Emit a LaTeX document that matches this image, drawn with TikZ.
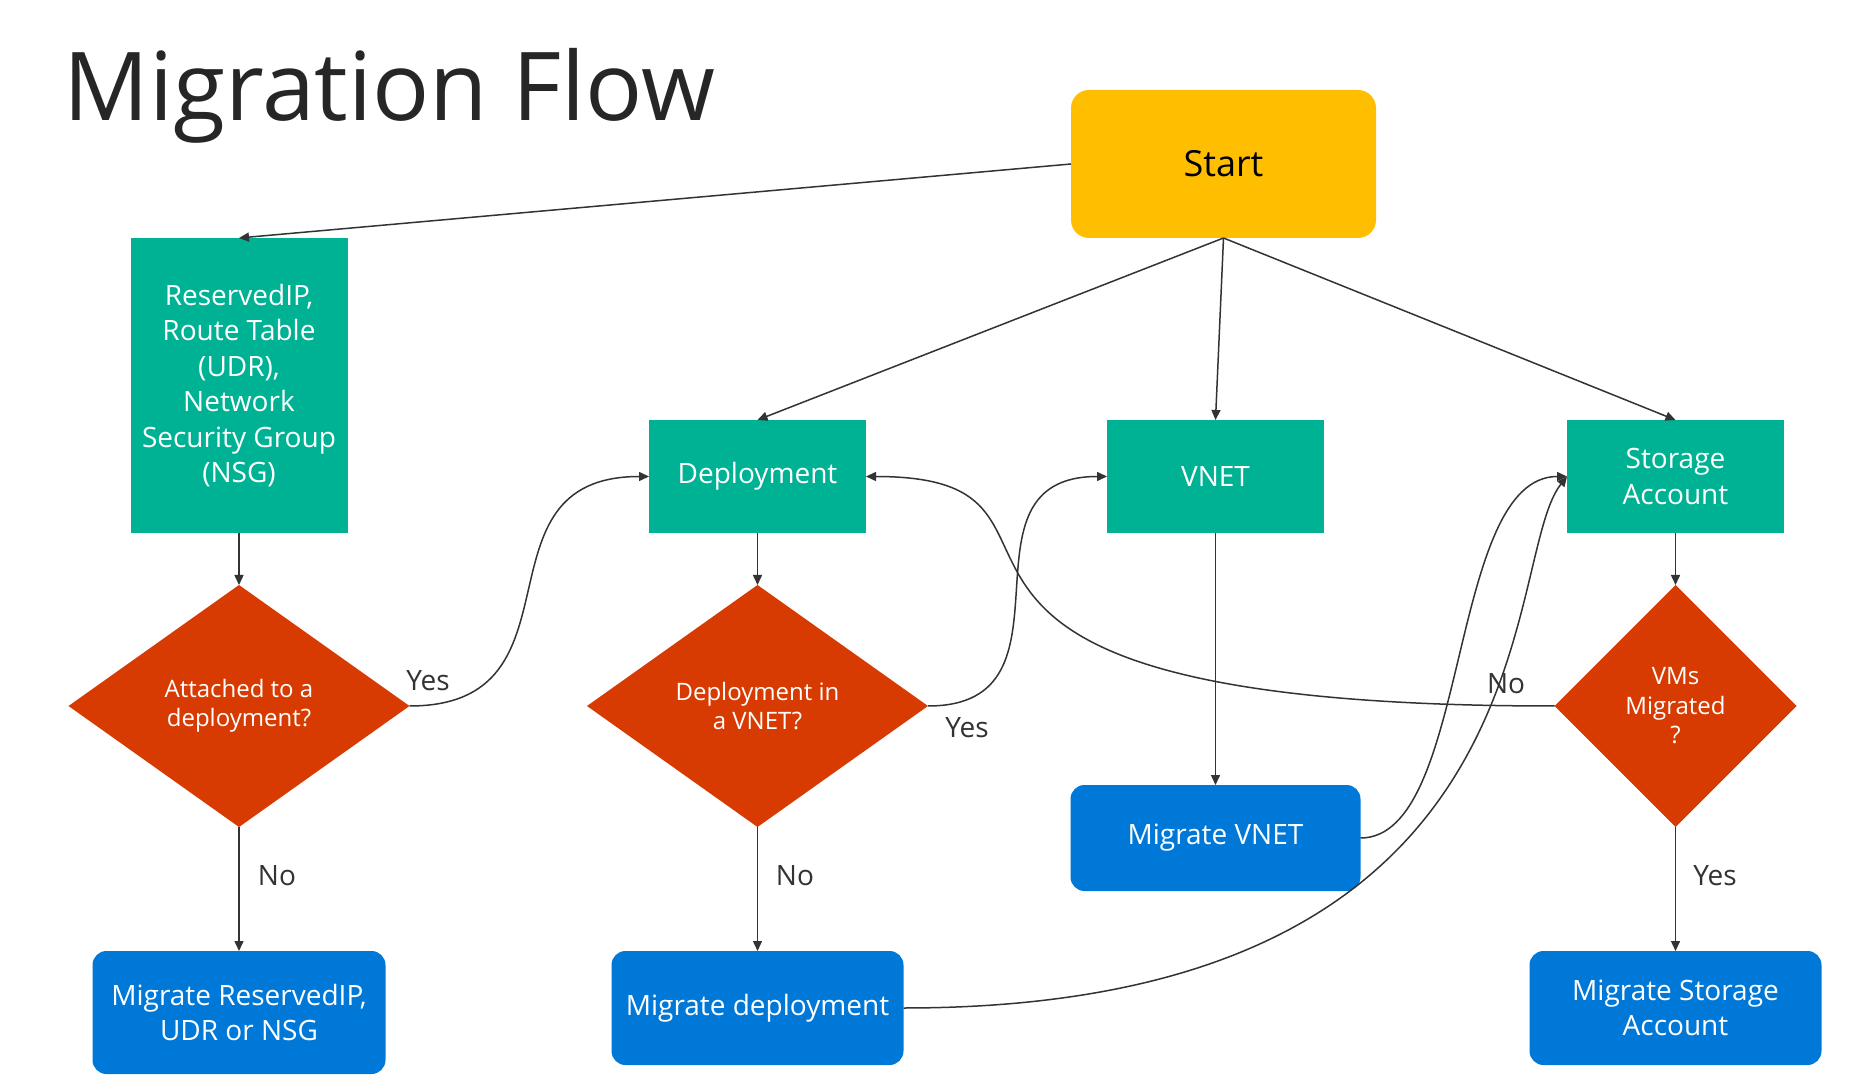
\documentclass[tikz,border=0pt]{standalone}
\usepackage{fontspec}
\setmainfont{Open Sans}
\usepackage{tikz}
\usetikzlibrary{shapes.geometric, arrows.meta, positioning}
\definecolor{msteal}{RGB}{0, 178, 148}
\definecolor{msred}{RGB}{216, 59, 1}
\definecolor{msblue}{RGB}{0, 120, 215}
\definecolor{msyellow}{RGB}{255, 191, 0}
\definecolor{inkgray}{RGB}{51, 51, 51}
\definecolor{titlegray}{RGB}{38, 38, 38}

\begin{document}
\begin{tikzpicture}[
    x=0.5pt, y=-0.5pt,
    node distance=26pt,
    box/.style={rectangle, fill=msteal, minimum width=108.5pt, minimum height=56.5pt, inner sep=0pt, outer sep=0pt, align=center, font=\fontsize{14}{17.7}\selectfont, text=white},
    startbox/.style={rectangle, rounded corners=9pt, fill=msyellow, minimum width=152.5pt, minimum height=74pt, inner sep=0pt, outer sep=0pt, font=\fontsize{18}{21}\selectfont, text=black},
    decide/.style={diamond, fill=msred, minimum width=170.5pt, minimum height=121pt, inner sep=0pt, outer sep=0pt, align=center, font=\fontsize{12}{14.75}\selectfont, text=white},
    migrate/.style={rectangle, rounded corners=7pt, fill=msblue, minimum width=146pt, minimum height=57pt, inner sep=0pt, outer sep=0pt, align=center, font=\fontsize{14}{17.7}\selectfont, text=white},
    lbl/.style={font=\fontsize{14}{17}\selectfont, text=inkgray, inner sep=0pt},
    arr/.style={draw=inkgray, line width=0.75pt, -{Triangle[length=5pt, width=4.5pt]}}
]
\useasboundingbox (0,0) rectangle (1853,1090);
\fill[white] (0,0) rectangle (1853,1090);

\node[anchor=base west, inner sep=0pt, font=\fontsize{47.5}{50}\selectfont, text=titlegray] (title) at (63,121) {Migration Flow};

% top row
\node[startbox] (start) at (1223.5,164) {Start};
\node[box, minimum height=147.5pt] (res) at (239,385.5) {ReservedIP,\\Route Table\\(UDR),\\Network\\Security Group\\(NSG)};
\node[box] (dep) at (757.5,476.5) {Deployment};
\node[box] (vnet) at (1215.5,476.5) {VNET};
\node[box] (sto) at (1675.5,476.5) {Storage\\Account};

% decisions
\node[decide, below=of res] (d1) {Attached to a\\deployment?};
\node[decide, below=of dep] (d2) {Deployment in\\a VNET?};
\node[decide, below=of sto, minimum width=121pt] (d3) {VMs\\Migrated\\?};

% migrations
\node[migrate, below=62pt of d1, minimum height=61.5pt, minimum width=146.5pt] (m1) {Migrate ReservedIP,\\UDR or NSG};
\node[migrate, below=62pt of d2] (m2) {Migrate deployment};
\node[migrate, below=126pt of vnet, minimum height=53pt, minimum width=145pt] (mv) {Migrate VNET};
\node[migrate, below=62pt of d3] (ms) {Migrate Storage\\Account};

% connectors
\draw[arr] (start.west) -- (res.north);
\draw[arr] (start.south) -- (dep.north);
\draw[arr] (start.south) -- (vnet.north);
\draw[arr] (start.south) -- (sto.north);
\draw[arr] (res.south) -- (d1.north);
\draw[arr] (dep.south) -- (d2.north);
\draw[arr] (sto.south) -- (d3.north);
\draw[arr] (vnet.south) -- (mv.north);
\draw[arr] (d1.south) -- (m1.north);
\draw[arr] (d2.south) -- (m2.north);
\draw[arr] (d3.south) -- (ms.north);
\draw[arr] (d1.east) to[out=0, in=180, looseness=1.4] (dep.west);
\draw[arr] (d2.east) to[out=0, in=180, looseness=1.4] (vnet.west);
\draw[arr] (d3.west) .. controls +(-755,0) and +(270,0) .. (dep.east);
\draw[arr] (mv.east) .. controls +(110,0) and +(-120,0) .. (sto.west);
\draw[arr] (m2.east) .. controls +(657,0) and +(-67,84) .. (sto.west);

% labels
\node[lbl] (yes1) at (428,681) {Yes};
\node[lbl] (yes2) at (967,728) {Yes};
\node[lbl] (no1) at (277,876) {No};
\node[lbl] (no2) at (795,876) {No};
\node[lbl] (yes3) at (1715,876) {Yes};
\node[lbl] (no3) at (1506,684) {No};
\end{tikzpicture}
\end{document}
